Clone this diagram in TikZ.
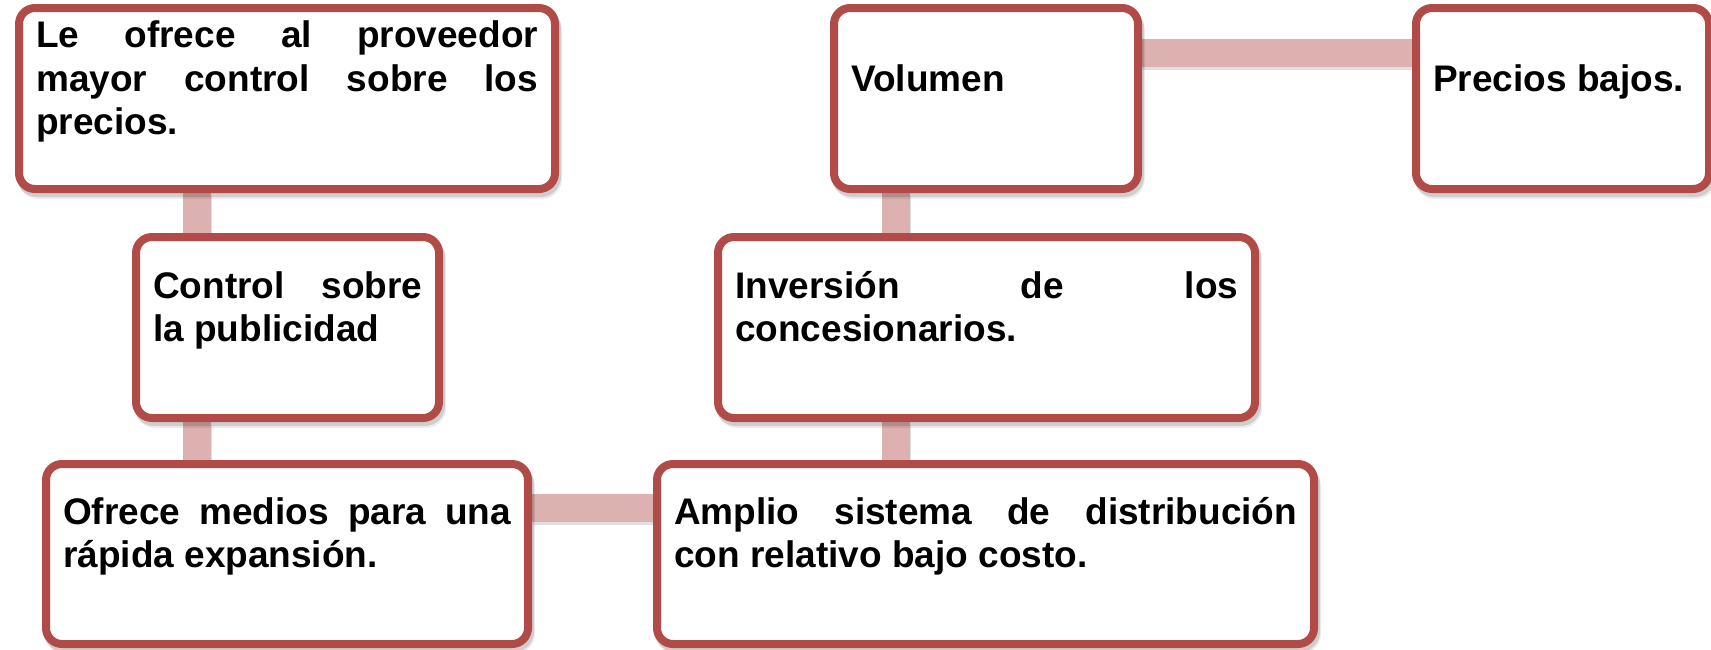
\documentclass[tikz,border=0pt]{standalone}
\usepackage{fontspec}
\setmainfont{Liberation Sans}
\usetikzlibrary{backgrounds}
\definecolor{boxred}{HTML}{B04B48}
\definecolor{connpink}{HTML}{DCB1B0}
\newcommand{\jline}[2]{\makebox[#1][s]{#2}}
\tikzset{
  box/.style={draw=boxred, line width=8pt, rounded corners=16pt, fill=white, inner sep=0pt},
  conn/.style={line width=28pt, draw=connpink},
  connshadow/.style={line width=28pt, draw=black, opacity=.12, transform canvas={xshift=1pt,yshift=-3pt}},
  boxshadow/.style={fill=black, opacity=.13, rounded corners=20pt, transform canvas={xshift=2pt,yshift=-4pt}},
  boxshadowb/.style={fill=black, opacity=.07, rounded corners=20pt, transform canvas={xshift=3pt,yshift=-6pt}},
  txt/.style={anchor=base west, inner sep=0pt, font=\fontsize{37}{43.5}\selectfont\bfseries}
}
\begin{document}
\begin{tikzpicture}[x=1pt,y=-1pt]
\useasboundingbox (0,0) rectangle (1711,649);
\clip (0,0) rectangle (1711,649);
% boxes
\node[box, minimum width=536pt, minimum height=181pt] (A) at (287,98.5) {};
\node[box, minimum width=303pt, minimum height=181pt] (B) at (287.5,327.5) {};
\node[box, minimum width=482pt, minimum height=180pt] (C) at (287,554) {};
\node[box, minimum width=657pt, minimum height=180pt] (D) at (985.5,554) {};
\node[box, minimum width=537pt, minimum height=181pt] (E) at (986.5,327.5) {};
\node[box, minimum width=304pt, minimum height=181pt] (F) at (986,98.5) {};
\node[box, minimum width=293pt, minimum height=181pt] (G) at (1562.5,98.5) {};
% texts
\node[txt] (tA) at (36,47.5) {\begin{tabular}[t]{@{}l@{}}\jline{502pt}{Le ofrece al proveedor}\\ \jline{502pt}{mayor control sobre los}\\ precios.\end{tabular}};
\node[txt] (tB) at (153,298) {\begin{tabular}[t]{@{}l@{}}\jline{269pt}{Control sobre}\\ la publicidad\end{tabular}};
\node[txt] (tC) at (63,524) {\begin{tabular}[t]{@{}l@{}}\jline{448pt}{Ofrece medios para una}\\ rápida expansión.\end{tabular}};
\node[txt] (tD) at (674,524) {\begin{tabular}[t]{@{}l@{}}\jline{623pt}{Amplio sistema de distribución}\\ con relativo bajo costo.\end{tabular}};
\node[txt] (tE) at (735,298) {\begin{tabular}[t]{@{}l@{}}\jline{503pt}{Inversión de los}\\ concesionarios.\end{tabular}};
\node[txt] (tF) at (851,91.5) {Volumen};
\node[txt] (tG) at (1433,91.5) {Precios bajos.};
% connectors and shadows
\coordinate (cx1) at (196.5,0);
\coordinate (cx2) at (895.5,0);
\coordinate (cy1) at (0,507.5);
\coordinate (cy2) at (0,52.5);
\begin{scope}[on background layer]
  \draw[connshadow] (A.south -| cx1) -- (B.north -| cx1);
  \draw[connshadow] (B.south -| cx1) -- (C.north -| cx1);
  \draw[connshadow] (C.east |- cy1) -- (D.west |- cy1);
  \draw[connshadow] (D.north -| cx2) -- (E.south -| cx2);
  \draw[connshadow] (E.north -| cx2) -- (F.south -| cx2);
  \draw[connshadow] (F.east |- cy2) -- (G.west |- cy2);
  \draw[conn] (A.south -| cx1) -- (B.north -| cx1);
  \draw[conn] (B.south -| cx1) -- (C.north -| cx1);
  \draw[conn] (C.east |- cy1) -- (D.west |- cy1);
  \draw[conn] (D.north -| cx2) -- (E.south -| cx2);
  \draw[conn] (E.north -| cx2) -- (F.south -| cx2);
  \draw[conn] (F.east |- cy2) -- (G.west |- cy2);
  \foreach \n in {A,B,C,D,E,F,G}{
    \fill[boxshadowb] (\n.north west) rectangle (\n.south east);
    \fill[boxshadow] (\n.north west) rectangle (\n.south east);
  }
\end{scope}
\end{tikzpicture}
\end{document}
